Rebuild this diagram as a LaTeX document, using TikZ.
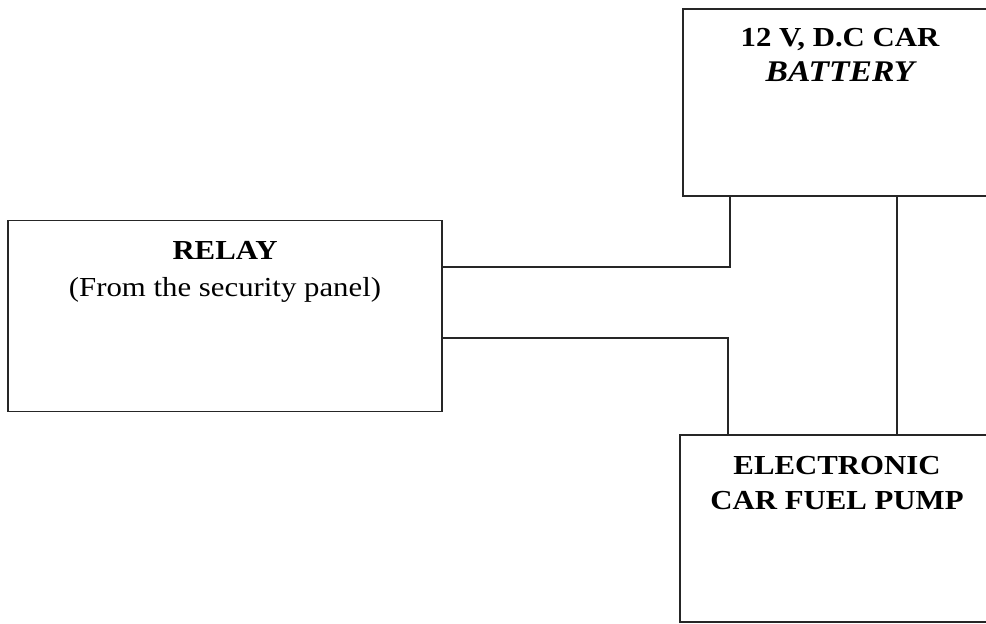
\documentclass[tikz,border=0pt]{standalone}
\usepackage{fontspec}
\setmainfont{Liberation Serif}[FakeStretch=1.12]
\begin{document}
\begin{tikzpicture}[x=1pt,y=-1pt,
  blk/.style={draw=black!85,line width=1.6pt,rectangle,inner sep=0pt},
  txt/.style={align=center,font=\fontsize{27.5}{35}\selectfont,inner sep=0pt,anchor=north},
  wire/.style={draw=black!85,line width=1.6pt}]
\useasboundingbox (0,0) rectangle (986,624);
\clip (0,0) rectangle (986,624);
\fill[white] (0,0) rectangle (986,624);
\node[blk,minimum width=327pt,minimum height=187pt] (battery) at (846.5,102.5) {};
\node[blk,minimum width=434pt,minimum height=191pt] (relay) at (225,316) {};
\node[blk,minimum width=330pt,minimum height=187pt] (pump) at (845,528.5) {};
\node[txt] (battxt) at (840,28) {\bfseries 12 V, D.C CAR\\\fontsize{30}{35}\selectfont\bfseries\itshape BATTERY};
\node[txt] (reltxt) at (225,241) {\bfseries RELAY\\[2pt](From the security panel)};
\node[txt] (pumptxt) at (837,456) {\bfseries ELECTRONIC\\\bfseries CAR FUEL PUMP};
\coordinate (j1) at (730,267);
\coordinate (j2) at (728,338);
\coordinate (j3) at (897,300);
\draw[wire] (relay.east|-j1) -- (j1) -- (j1|-battery.south);
\draw[wire] (relay.east|-j2) -- (j2) -- (j2|-pump.north);
\draw[wire] (j3|-battery.south) -- (j3|-pump.north);
\end{tikzpicture}
\end{document}
